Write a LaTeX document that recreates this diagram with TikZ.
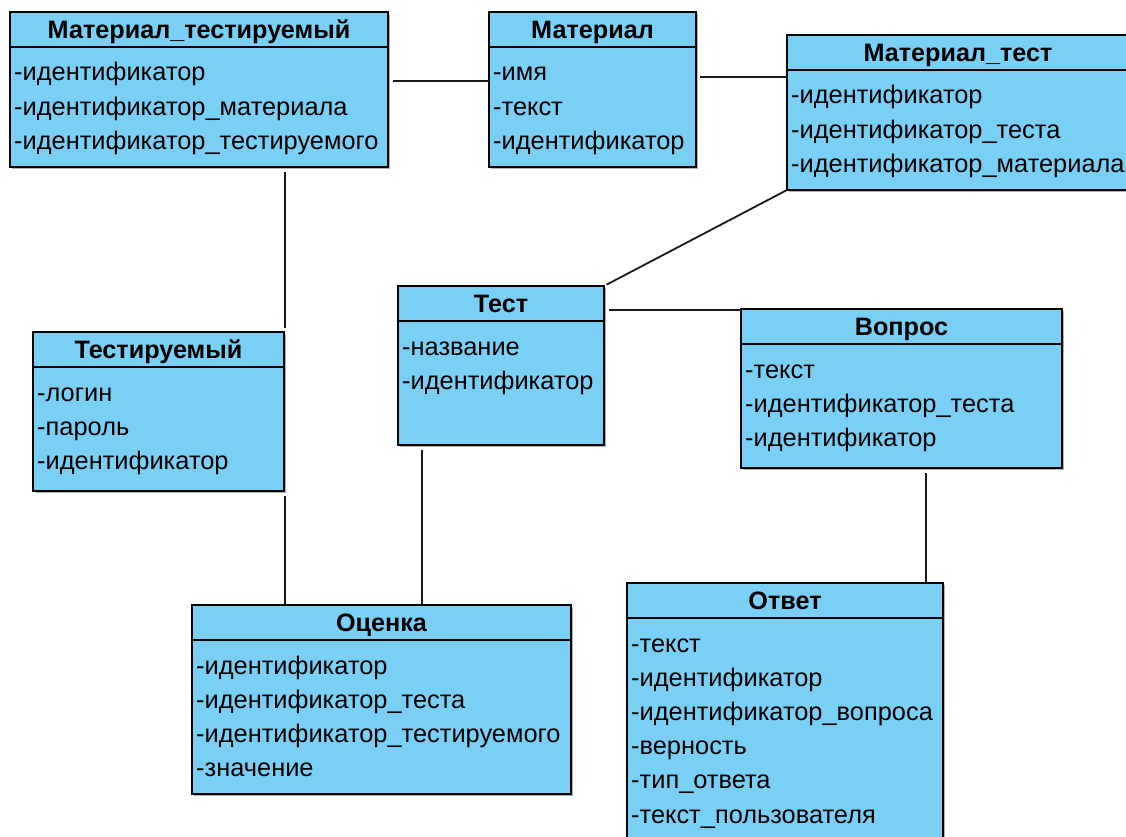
\documentclass[tikz,border=0pt]{standalone}
\usepackage{fontspec}
\setmainfont{Liberation Sans}
\usetikzlibrary{calc}

\definecolor{classfill}{HTML}{7ACFF5}
\definecolor{classshadow}{gray}{0.7}

\tikzset{
  classbox/.style={draw=black, line width=1.8pt, fill=classfill, rectangle,
    inner sep=0pt, outer sep=0pt, anchor=north west},
  classline/.style={draw=black, line width=1.8pt},
  classtitle/.style={font=\fontsize{25.2}{29}\selectfont\bfseries, anchor=base, inner sep=0pt},
  classattr/.style={font=\fontsize{25.4}{30}\selectfont, anchor=base west, inner sep=0pt},
  link/.style={draw=black!90, line width=1.8pt},
}

% #1 name, #2 x, #3 y, #4 width, #5 height, #6 title, #7 attributes
\newcommand\umlclass[7]{%
  \fill[classshadow] (#2+2,#3+2) rectangle ++(#4,#5);
  \node[classbox, minimum width=#4, minimum height=#5] (#1) at (#2,#3) {};
  \draw[classline] ($(#1.north west)+(0,35)$) -- ($(#1.north east)+(0,35)$);
  \node[classtitle] (#1-t) at ($(#1.north)+(0,26.5)$) {#6};
  \foreach \a [count=\i from 0] in {#7} {
    \node[classattr] (#1-\i) at ($(#1.north west)+(4,69+34.2*\i)$) {-\a};
  }
}

\begin{document}
\begin{tikzpicture}[x=1pt, y=-1pt]
\useasboundingbox (0,0) rectangle (1126,837);

\umlclass{mt}{10}{12}{378}{155}{Материал\_тестируемый}
  {идентификатор, идентификатор\_материала, идентификатор\_тестируемого}
\umlclass{mat}{489}{12}{207}{155}{Материал}
  {имя, текст, идентификатор}
\umlclass{mtest}{787}{35}{342}{155}{Материал\_тест}
  {идентификатор, идентификатор\_теста, идентификатор\_материала}
\umlclass{tr}{33}{332}{251}{159}{Тестируемый}
  {логин, пароль, идентификатор}
\umlclass{test}{398}{286}{206}{159}{Тест}
  {название, идентификатор}
\umlclass{q}{741}{309}{321}{159}{Вопрос}
  {текст, идентификатор\_теста, идентификатор}
\umlclass{grade}{192}{605}{379}{189}{Оценка}
  {идентификатор, идентификатор\_теста, идентификатор\_тестируемого, значение}
\umlclass{ans}{627}{583}{316}{262}{Ответ}
  {текст, идентификатор, идентификатор\_вопроса, верность, тип\_ответа, текст\_пользователя}

% associations
\draw[link, shorten <=5pt] (mt.east |- 0,81) -- (mat.west |- 0,81);
\draw[link, shorten <=4pt] (mat.east |- 0,77) -- (mtest.west |- 0,77);
\draw[link, shorten <=5pt, shorten >=4pt] (mt.south -| 285,0) -- (tr.north -| 285,0);
\draw[link, shorten >=3pt] (mtest.south west) -- (test.north east);
\draw[link, shorten <=5pt] (test.east |- 0,310) -- (q.west |- 0,310);
\draw[link, shorten <=5pt] (tr.south -| 285,0) -- (grade.north -| 285,0);
\draw[link, shorten <=5pt] (test.south -| 422,0) -- (grade.north -| 422,0);
\draw[link, shorten <=5pt] (q.south -| 926,0) -- (ans.north -| 926,0);
\end{tikzpicture}
\end{document}
